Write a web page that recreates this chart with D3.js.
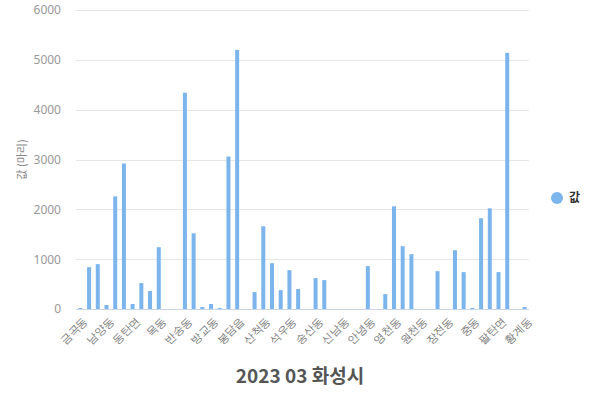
<!DOCTYPE html>
<html>
<head>
<meta charset="utf-8">
<script src="https://cdn.jsdelivr.net/npm/d3@7"></script>
<style>
  body { margin: 0; background: #fff; }
  svg { font-family: "Noto Sans CJK KR", "Noto Sans", sans-serif; }
</style>
</head>
<body>
<div id="chart"></div>
<script>
const categories = [
  '금곡동', '기산동', '기안동', '남양동', '남양읍', '능동', '동탄면', '마도면', '매송면', '목동',
  '문호동', '반달동', '반송동', '반월동', '반정동', '방교동', '배양동', '병점동', '봉담읍', '비봉면',
  '사창동', '산척동', '새솔동', '서신면', '석우동', '성동', '송동', '송산동', '송산면', '신기동',
  '신남동', '신동', '신외동', '안녕동', '양감면', '여울동', '영천동', '오산동', '우정읍', '원천동',
  '율암동', '장안면', '장전동', '장지동', '정남면', '중동', '진안동', '청계동', '팔탄면', '향남읍',
  '화산동', '황계동',
];
const values = [
  20, 840, 900, 80, 2260, 2920, 100, 520, 360, 1240,
  0, 0, 4340, 1520, 40, 100, 20, 3060, 5200, 0,
  340, 1660, 920, 380, 780, 400, 0, 620, 580, 0,
  0, 0, 0, 860, 0, 300, 2060, 1260, 1100, 0,
  0, 760, 0, 1180, 740, 20, 1820, 2020, 740, 5140,
  0, 40,
];
const yTicks = [0, 1000, 2000, 3000, 4000, 5000, 6000];
const seriesName = '값';
const titleText = '2023 03 화성시';
const yLabel = '값 (마리)';

const width = 600;
const height = 400;
const margin = { top: 10, right: 71, bottom: 91, left: 76 };
const innerW = width - margin.left - margin.right;
const innerH = height - margin.top - margin.bottom;

const svg = d3.select('#chart')
  .append('svg')
  .attr('width', width)
  .attr('height', height);

const chart = svg.append('g')
  .attr('transform', `translate(${margin.left},${margin.top})`);

const data = categories.map((c, i) => ({ name: c, value: values[i] }));

const x = d3.scaleBand()
  .domain(categories)
  .range([0, innerW])
  .paddingInner(0)
  .paddingOuter(0);

const y = d3.scaleLinear()
  .domain([0, 6000])
  .range([innerH, 0]);

// grid
chart.append('g')
  .attr('class', 'grid')
  .call(d3.axisLeft(y).tickValues(yTicks).tickSize(-innerW).tickFormat(''))
  .call((g) => g.select('.domain').remove())
  .call((g) => g.selectAll('.tick line').attr('stroke', '#e6e6e6').attr('shape-rendering', 'crispEdges'));

// y labels
chart.append('g')
  .call(d3.axisLeft(y).tickValues(yTicks).tickSize(0).tickPadding(15).tickFormat(d3.format('d')))
  .call((g) => g.select('.domain').remove())
  .call((g) => g.selectAll('.tick text')
    .attr('fill', '#999')
    .attr('font-size', '12px')
    .attr('font-family', '"Noto Sans", sans-serif'));

// bars
const barW = 4;
chart.selectAll('.bar')
  .data(data)
  .join('rect')
  .attr('class', 'bar')
  .attr('x', (d) => x(d.name) + (x.bandwidth() - barW) / 2)
  .attr('y', (d) => y(d.value))
  .attr('width', barW)
  .attr('height', (d) => innerH - y(d.value))
  .attr('fill', '#7cb5ec');

// x axis
const shown = categories.filter((d, i) => i % 3 === 0);
const xAxis = chart.append('g')
  .attr('transform', `translate(0,${innerH})`)
  .call(d3.axisBottom(x).tickValues(shown).tickSize(0).tickFormat((d) => d));

xAxis.select('.domain')
  .attr('stroke', '#ccd6eb')
  .attr('d', `M0,0.5H${innerW}`);

xAxis.selectAll('.tick text')
  .attr('fill', '#777')
  .attr('font-size', '11px')
  .attr('transform', 'translate(1,6) rotate(-45)')
  .attr('text-anchor', 'end')
  .attr('dy', '0.6em')
  .attr('dx', '0');

// y axis title
svg.append('text')
  .attr('transform', `translate(26, ${margin.top + innerH / 2}) rotate(-90)`)
  .attr('text-anchor', 'middle')
  .attr('fill', '#888')
  .attr('font-size', '11px')
  .text(yLabel);

// title
svg.append('text')
  .attr('x', 300)
  .attr('y', 383)
  .attr('text-anchor', 'middle')
  .attr('fill', '#555')
  .attr('font-size', '19px')
  .attr('font-weight', 'bold')
  .text(titleText);

// legend
const legend = svg.append('g')
  .attr('transform', 'translate(557,198)');

legend.append('circle')
  .attr('r', 6)
  .attr('fill', '#7cb5ec');

legend.append('text')
  .attr('x', 12)
  .attr('dy', '0.35em')
  .attr('fill', '#333')
  .attr('font-size', '12px')
  .attr('font-weight', 'bold')
  .text(seriesName);
</script>
</body>
</html>
